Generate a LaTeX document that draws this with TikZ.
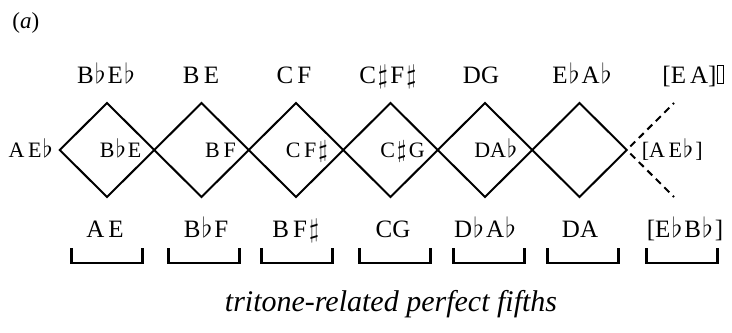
\documentclass[tikz,border=0pt]{standalone}
\usepackage{fontspec}
\usepackage{graphicx}
\setmainfont{Liberation Serif}
\usetikzlibrary{positioning, shapes.geometric}

\newcommand{\flt}{\kern0.7pt\scalebox{1.15}{$\flat$}\kern1pt}
\newcommand{\shp}{\kern1pt\scalebox{1.1}{$\sharp$}\kern1.2pt}
\newcommand{\missbox}{{\setlength{\fboxsep}{0pt}\setlength{\fboxrule}{0.5pt}%
    \fbox{\rule{0pt}{8.5pt}\hspace{2.5pt}}}}

\begin{document}
\begin{tikzpicture}[
    x=0.5pt, y=0.5pt,
    rhomb/.style={draw, diamond, line width=1pt, inner sep=0pt, outer sep=0pt,
                  minimum width=47.25pt, minimum height=47pt},
    toplabel/.style={font=\fontsize{12.5}{14}\selectfont, inner sep=1pt, anchor=base},
    botlabel/.style={toplabel},
    midlabel/.style={font=\fontsize{11}{13}\selectfont, inner sep=1pt, outer sep=0pt,
                     text height=7.3pt, text depth=0pt},
    bracket/.style={line width=1.3pt},
    dashline/.style={line width=1pt, dash pattern=on 3.5pt off 2.5pt, dash phase=3.5pt},
    caption/.style={font=\fontsize{15}{18}\selectfont\itshape, inner sep=0pt, anchor=base},
]
\useasboundingbox (0,0) rectangle (732,-332);

% ============================================================
% Panel tag
% ============================================================
\node[inner sep=0pt, anchor=base west, font=\fontsize{11.5}{13}\selectfont] (tag) at (12,-28) {(\textit{a})};

% ============================================================
% Chain of diamonds
% ============================================================
\foreach \i in {1,...,6}
    \node[rhomb] (d\i) at ({107+94.5*(\i-1)}, -150) {};

% open end on the right
\coordinate (ur) at (674,-103);
\coordinate (lr) at (674,-197);
\draw[dashline] (d6.east) -- (ur);
\draw[dashline] (d6.east) -- (lr);

% ============================================================
% Top row
% ============================================================
\node[toplabel] (t1) at (107,-83) {B\flt E\flt};
\node[toplabel] (t2) at (201,-83) {B\,E};
\node[toplabel] (t3) at (294,-83) {C\,F};
\node[toplabel] (t4) at (389,-83) {C\shp F\shp};
\node[toplabel] (t5) at (481,-83) {DG};
\node[toplabel] (t6) at (583,-83) {E\flt A\flt};
\node[toplabel] (t7) at (693,-83) {[E\,A]\missbox};

% ============================================================
% Labels at the vertices
% ============================================================
\node[midlabel, left=1.5pt of d1.west] (m0) {A\,E\flt};
\node[midlabel, left=5.5pt of d1.east] (m1) {B\flt E};
\node[midlabel, left=5.5pt of d2.east] (m2) {B\,F};
\node[midlabel, left=5.5pt of d3.east] (m3) {C\,F\shp};
\node[midlabel, left=5.5pt of d4.east] (m4) {C\shp G};
\node[midlabel, left=5.5pt of d5.east] (m5) {DA\flt};
\node[midlabel, right=6.5pt of d6.east] (m6) {[A\,E\flt]};

% ============================================================
% Bottom row with brackets
% ============================================================
\node[botlabel] (b1) at (105,-237) {A\,E};
\node[botlabel] (b2) at (206,-237) {B\flt F};
\node[botlabel] (b3) at (297,-237) {B\,F\shp};
\node[botlabel] (b4) at (393,-237) {CG};
\node[botlabel] (b5) at (486,-237) {D\flt A\flt};
\node[botlabel] (b6) at (580,-237) {DA};
\node[botlabel] (b7) at (685,-237) {[E\flt B\flt]};

\foreach \x in {107,204,297,395,489,583,682}
    \draw[bracket] (\x-35.5,-248) |- (\x+35.5,-263) -- (\x+35.5,-248);

\node[caption] (cap) at (391,-311) {tritone-related perfect fifths};

\end{tikzpicture}
\end{document}
